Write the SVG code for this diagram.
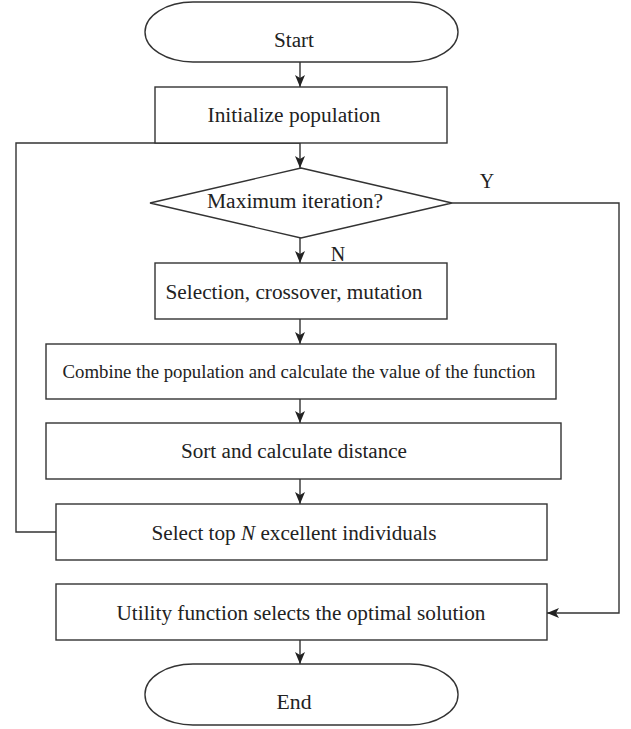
<svg xmlns="http://www.w3.org/2000/svg" width="631" height="729" viewBox="0 0 631 729">
<style>
.s{fill:#fff;stroke:#333;stroke-width:1.4}
.c{fill:none;stroke:#333;stroke-width:1.4}
.t{font-family:"Liberation Serif","Times New Roman",serif;font-size:20px;fill:#222;text-anchor:middle}
</style>
<defs>
<marker id="a" markerUnits="userSpaceOnUse" markerWidth="14" markerHeight="12" refX="12" refY="5" orient="auto">
<path d="M0,0 L12,5 L0,10 L3,5 z" fill="#222"/>
</marker>
</defs>
<rect width="631" height="729" fill="#fff"/>
<g id="connectors">
<line class="c" x1="300" y1="62" x2="300" y2="87" marker-end="url(#a)"/>
<line class="c" x1="300" y1="143" x2="300" y2="168" marker-end="url(#a)"/>
<line class="c" x1="300" y1="238" x2="300" y2="263" marker-end="url(#a)"/>
<line class="c" x1="300" y1="319" x2="300" y2="344" marker-end="url(#a)"/>
<line class="c" x1="300" y1="399" x2="300" y2="423" marker-end="url(#a)"/>
<line class="c" x1="300" y1="479" x2="300" y2="504" marker-end="url(#a)"/>
<line class="c" x1="300" y1="640" x2="300" y2="664" marker-end="url(#a)"/>
<polyline class="c" points="452,203 619,203 619,613 547,613" marker-end="url(#a)"/>
<polyline class="c" points="56,532 16,532 16,143 300,143"/>
<text class="t" x="487" y="188">Y</text>
<text class="t" x="338" y="261">N</text>
</g>
<g id="start">
<rect class="s" x="145" y="2" width="313" height="60" rx="48" ry="30"/>
<text class="t" x="294" y="47" textLength="40" lengthAdjust="spacingAndGlyphs">Start</text>
</g>
<g id="init">
<rect class="s" x="155" y="87" width="292" height="56"/>
<text class="t" x="294" y="122" textLength="173" lengthAdjust="spacingAndGlyphs">Initialize population</text>
</g>
<g id="decision">
<polygon class="s" points="301,168 452,203 301,238 150,203"/>
<text class="t" x="295" y="208" textLength="176" lengthAdjust="spacingAndGlyphs">Maximum iteration?</text>
</g>
<g id="selection">
<rect class="s" x="155" y="263" width="292" height="56"/>
<text class="t" x="294" y="299" textLength="257" lengthAdjust="spacingAndGlyphs">Selection, crossover, mutation</text>
</g>
<g id="combine">
<rect class="s" x="46" y="344" width="510" height="55"/>
<text class="t" x="299" y="378" style="font-size:18.5px" textLength="473" lengthAdjust="spacingAndGlyphs">Combine the population and calculate the value of the function</text>
</g>
<g id="sort">
<rect class="s" x="46" y="423" width="515" height="56"/>
<text class="t" x="294" y="458" textLength="226" lengthAdjust="spacingAndGlyphs">Sort and calculate distance</text>
</g>
<g id="selecttop">
<rect class="s" x="56" y="504" width="491" height="56"/>
<text class="t" x="294" y="540" textLength="285" lengthAdjust="spacingAndGlyphs">Select top <tspan font-style="italic">N</tspan> excellent individuals</text>
</g>
<g id="utility">
<rect class="s" x="56" y="584" width="491" height="56"/>
<text class="t" x="301" y="620" textLength="369" lengthAdjust="spacingAndGlyphs">Utility function selects the optimal solution</text>
</g>
<g id="end">
<rect class="s" x="145" y="664" width="313" height="61" rx="48" ry="30"/>
<text class="t" x="294" y="709" textLength="35" lengthAdjust="spacingAndGlyphs">End</text>
</g>
</svg>
